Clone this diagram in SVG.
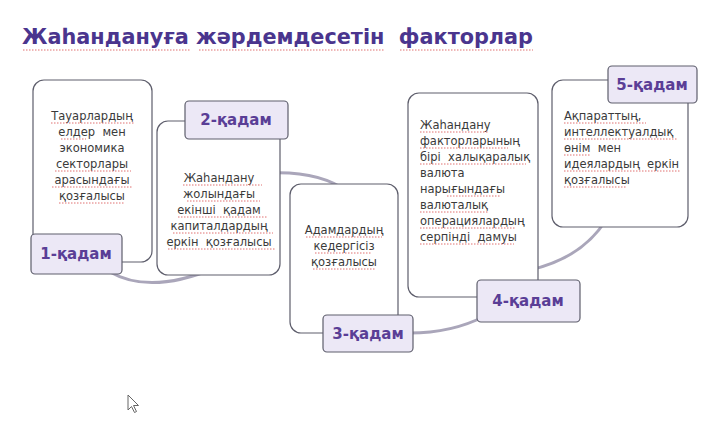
<svg xmlns="http://www.w3.org/2000/svg" width="720" height="441" viewBox="0 0 720 441">
<style>
text{white-space:pre}
.box{fill:#ffffff;stroke:#5e5e6c;stroke-width:1.2}
.lbl{fill:#ece8f6;stroke:#5e5e6c;stroke-width:1.2}
.lt{font-family:"DejaVu Sans",sans-serif;font-weight:bold;font-size:15px;fill:#5a3e96;text-anchor:middle}
.bt{font-family:"DejaVu Sans",sans-serif;font-size:11.5px;fill:#3a3a3a}
.c{text-anchor:middle}
.conn{fill:none;stroke:#aaa6ba;stroke-width:3;stroke-linecap:round}
.ul{fill:none;stroke:#e07070;stroke-width:1;stroke-dasharray:1.5 1.5}
.title{font-family:"DejaVu Sans",sans-serif;font-weight:bold;font-size:22px;fill:#4a358e}
</style>
<rect width="720" height="441" fill="#ffffff"/>
<g id="title">
<text class="title" x="22" y="44" textLength="511" lengthAdjust="spacingAndGlyphs">Жаһандануға жәрдемдесетін  факторлар</text>
<path class="ul" d="M23 50 H191 M199 50 H385 M400 50 H533"/>
</g>
<g id="connectors">
<path class="conn" d="M110 272 Q150 295 215 268"/>
<path class="conn" d="M270 173 Q320 171 348 192"/>
<path class="conn" d="M405 333 Q450 334 485 316"/>
<path class="conn" d="M530 270 Q582 258 606 220"/>
</g>
<g id="step1">
<rect class="box" x="33" y="80" width="119" height="182" rx="11"/>
<text class="bt c" x="92" y="120">Тауарлардың</text>
<text class="bt c" x="92" y="136">елдер  мен</text>
<text class="bt c" x="92" y="152">экономика</text>
<text class="bt c" x="92" y="168">секторлары</text>
<text class="bt c" x="92" y="184">арасындағы</text>
<text class="bt c" x="92" y="200">қозғалысы</text>
<path class="ul" d="M51 123 H134 M61 139 H86 M55 171 H131 M52 187 H132 M59 203 H124"/>
<rect class="lbl" x="31" y="234" width="91" height="40" rx="4"/>
<text class="lt" x="76" y="259">1-қадам</text>
</g>
<g id="step2">
<rect class="box" x="157" y="121" width="123" height="154" rx="11"/>
<text class="bt c" x="219" y="182">Жаһандану</text>
<text class="bt c" x="219" y="198">жолындағы</text>
<text class="bt c" x="219" y="214">екінші  қадам</text>
<text class="bt c" x="219" y="230">капиталдардың</text>
<text class="bt c" x="219" y="246">еркін  қозғалысы</text>
<path class="ul" d="M183 185 H262 M187 201 H260 M178 217 H268 M173 233 H273 M168 249 H275"/>
<rect class="lbl" x="185" y="101" width="103" height="38" rx="4"/>
<text class="lt" x="236" y="125">2-қадам</text>
</g>
<g id="step3">
<rect class="box" x="290" y="184" width="108" height="149" rx="11"/>
<text class="bt c" x="344" y="234">Адамдардың</text>
<text class="bt c" x="344" y="250">кедергісіз</text>
<text class="bt c" x="344" y="266">қозғалысы</text>
<path class="ul" d="M306 237 H382 M315 253 H372 M313 269 H376"/>
<rect class="lbl" x="323" y="315" width="90" height="37" rx="4"/>
<text class="lt" x="368" y="339">3-қадам</text>
</g>
<g id="step4">
<rect class="box" x="408" y="93" width="130" height="204" rx="11"/>
<text class="bt" x="420" y="129">Жаһандану</text>
<text class="bt" x="420" y="145">факторларының</text>
<text class="bt" x="420" y="161">бірі  халықаралық</text>
<text class="bt" x="420" y="177">валюта</text>
<text class="bt" x="420" y="193">нарығындағы</text>
<text class="bt" x="420" y="209">валюталық</text>
<text class="bt" x="420" y="225">операциялардың</text>
<text class="bt" x="420" y="241">серпінді  дамуы</text>
<path class="ul" d="M420 132 H489 M420 148 H508 M420 164 H526 M447 196 H501 M420 212 H488 M420 228 H516 M420 244 H514"/>
<rect class="lbl" x="477" y="280" width="103" height="42" rx="4"/>
<text class="lt" x="528" y="306">4-қадам</text>
</g>
<g id="step5">
<rect class="box" x="552" y="80" width="136" height="147" rx="11"/>
<text class="bt" x="564" y="120">Ақпараттың,</text>
<text class="bt" x="564" y="136">интеллектуалдық</text>
<text class="bt" x="564" y="152">өнім  мен</text>
<text class="bt" x="564" y="168">идеялардың  еркін</text>
<text class="bt" x="564" y="184">қозғалысы</text>
<path class="ul" d="M564 123 H646 M564 139 H677 M564 155 H590 M564 171 H680 M564 187 H627"/>
<rect class="lbl" x="608" y="66" width="89" height="37" rx="4"/>
<text class="lt" x="652" y="90">5-қадам</text>
</g>
<g id="cursor">
<path d="M128 395 L128 410 L131.5 406.5 L134.5 412.5 L136.5 411.5 L133.5 405.5 L138.5 405.5 Z" fill="#ffffff" stroke="#666" stroke-width="1"/>
</g>
</svg>
